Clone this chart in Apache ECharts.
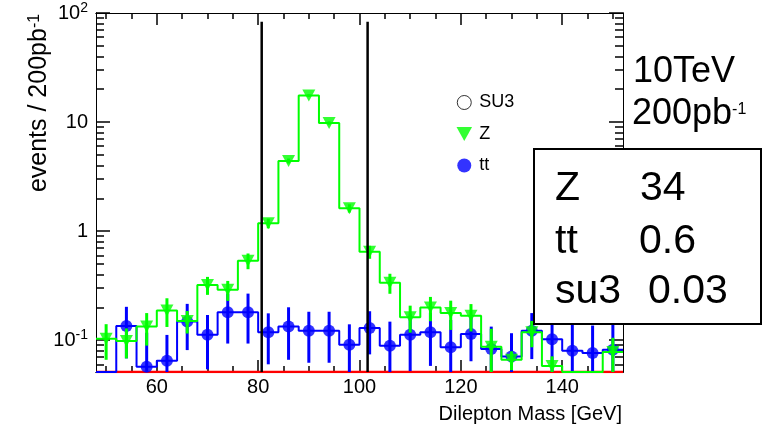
<!DOCTYPE html>
<html><head><meta charset="utf-8">
<script src="https://cdn.jsdelivr.net/npm/echarts@6/dist/echarts.min.js"></script>
<style>html,body{margin:0;padding:0;background:#fff}#c{width:767px;height:430px}</style>
</head><body><div id="c"></div>
<script>
// ---- data ----
const massBins = [50,54,58,62,66,70,74,78,82,86,90,94,98,102,106,110,114,118,122,126,130,134,138,142,146,150];
const binWidth = 4;
const zVals  = [0.103,0.098,0.133,0.187,0.150,0.32,0.289,0.535,1.18,4.4,17.5,9.8,1.62,0.645,0.336,0.162,0.199,0.177,0.167,0.087,0.066,0.118,0.058,0,0,0.078];
const zErr   = [0.037,0.030,0.044,0.055,0.035,0.06,0.060,0.088,0.12,0.23,0.46,0.34,0.14,0.088,0.070,0.045,0.050,0.053,0.047,0.040,0.013,0.032,0.013,0,0,0.027];
const ttVals = [0,0.135,0.057,0.0646,0.148,0.112,0.18,0.18,0.118,0.133,0.122,0.122,0.0906,0.129,0.0887,0.112,0.118,0.086,0.114,0.083,0.0707,0.122,0.102,0.0798,0.076,0.0815];
const ttErr  = [0,0.067,0.060,0.047,0.067,0.058,0.087,0.087,0.058,0.067,0.060,0.060,0.049,0.055,0.059,0.060,0.060,0.067,0.050,0.050,0.045,0.055,0.060,0.060,0.060,0.060];
const su3Vals = [0,0,0,0,0,0,0,0,0,0,0,0,0,0,0,0,0,0,0,0,0,0,0,0,0,0];
const cutLines = [80.7, 101.6];
const cutTop = 83;
const xLabelTicks = [60,80,100,120,140];
const xMinorTicks = [50,55,65,70,75,85,90,95,105,110,115,125,130,135,145,150];
const yLabelTicks = [0.1,1,10,100];
const yMinorTicks = [0.06,0.07,0.08,0.09,0.2,0.3,0.4,0.5,0.6,0.7,0.8,0.9,2,3,4,5,6,7,8,9,20,30,40,50,60,70,80,90];
const xMin = 48, xMax = 152, yMin = 0.051, yMax = 100;

const FONT = "'Liberation Sans', Arial, Helvetica, sans-serif";
const GREEN = '#00ff00', BLUE = '#0000ff', RED = '#ff0000';

function stepData(vals){
  const pts = massBins.map((c,i)=>[c - binWidth/2, vals[i] > 0 ? vals[i] : yMin]);
  const n = vals.length - 1;
  pts.push([massBins[n] + binWidth/2, vals[n] > 0 ? vals[n] : yMin]);
  return pts;
}
function pointData(vals, errs){
  const out = [];
  massBins.forEach((c,i)=>{ if (vals[i] > 0) out.push([c, vals[i], errs ? errs[i] : 0]); });
  return out;
}
function errBar(color){
  return function(params, api){
    const x = api.value(0), v = api.value(1), e = api.value(2);
    const p1 = api.coord([x, v + e]);
    const p2 = api.coord([x, Math.max(v - e, 1e-4)]);
    return {type:'line', shape:{x1:p1[0], y1:p1[1], x2:p2[0], y2:p2[1]}, style:{stroke:color, lineWidth:3}};
  };
}
function tick(vals, len){
  return {show:true, inside:true, length:len, customValues:vals, lineStyle:{color:'#000', width:1.5}};
}
function xAx(pos, ticks, len, labels){
  return {
    type:'value', min:xMin, max:xMax, position:pos, gridIndex:0,
    axisLine:{show: true, onZero:false, lineStyle:{color:'#000', width:1}},
    axisTick:tick(ticks, len),
    axisLabel: labels ? {show:true, customValues:xLabelTicks, margin:5, color:'#000', fontSize:20, fontFamily:FONT} : {show:false},
    splitLine:{show:false}
  };
}
function yLabel(v){
  const e = Math.round(Math.log10(v));
  if (e === 0) return '{b|1}';
  if (e === 1) return '{b|10}';
  return '{b|10}{s|' + e + '}';
}
function yAx(pos, ticks, len, labels){
  return {
    type:'log', logBase:10, min:yMin, max:yMax, position:pos, gridIndex:0,
    axisLine:{show:true, lineStyle:{color:'#000', width:1}},
    axisTick:tick(ticks, len),
    axisLabel: labels ? {
      show:true, customValues:yLabelTicks, margin:8, formatter:yLabel,
      rich:{ b:{fontSize:20, fontFamily:FONT, color:'#000'}, s:{fontSize:14, fontFamily:FONT, color:'#000', padding:[0,0,10,0]} }
    } : {show:false},
    splitLine:{show:false}
  };
}

const chart = echarts.init(document.getElementById('c'), null, {renderer:'canvas'});
chart.setOption({
  animation:false,
  backgroundColor:'#fff',
  grid:{left:96, right:144, top:13, bottom:58},
  xAxis:[
    xAx('bottom', xLabelTicks, 12, true),
    xAx('bottom', xMinorTicks, 6, false),
    xAx('top', xLabelTicks, 12, false),
    xAx('top', xMinorTicks, 6, false)
  ],
  yAxis:[
    yAx('left', yLabelTicks, 14, true),
    yAx('left', yMinorTicks, 8, false),
    yAx('right', yLabelTicks, 14, false),
    yAx('right', yMinorTicks, 8, false)
  ],
  legend:{
    orient:'vertical', left:456.5, top:93.5, padding:0, itemGap:13.5,
    itemWidth:20, itemHeight:14, selectedMode:false,
    textStyle:{fontSize:18, fontFamily:FONT, color:'#000', lineHeight:14},
    data:[
      {name:'SU3', icon:'circle', itemStyle:{color:'#fff', borderColor:'#000', borderWidth:1}},
      {name:'Z', icon:'path://M0,0L10,0L5,9Z', itemStyle:{color:GREEN, borderWidth:0}},
      {name:'tt', icon:'circle', itemStyle:{color:BLUE, borderWidth:0}}
    ]
  },
  series:[
    {name:'SU3', type:'scatter', data:pointData(su3Vals), symbol:'circle', symbolSize:12,
      itemStyle:{color:'#fff', borderColor:'#000'}, z:9},
    {name:'tt', type:'scatter', data:pointData(ttVals, ttErr), symbol:'circle', symbolSize:12,
      itemStyle:{color:BLUE}, z:4},
    {name:'Z', type:'scatter', data:pointData(zVals, zErr), symbol:'triangle', symbolRotate:180, symbolSize:[13,12],
      itemStyle:{color:GREEN}, z:7},
    {name:'SU3 hist', type:'line', data:stepData(su3Vals), step:'end', symbol:'none', showSymbol:false,
      lineStyle:{color:RED, width:2.5}, z:1},
    {name:'tt hist', type:'line', data:stepData(ttVals), step:'end', symbol:'none', showSymbol:false,
      lineStyle:{color:BLUE, width:2}, z:2},
    {name:'tt err', type:'custom', data:pointData(ttVals, ttErr), renderItem:errBar(BLUE), clip:true, z:3},
    {name:'Z hist', type:'line', data:stepData(zVals), step:'end', symbol:'none', showSymbol:false,
      lineStyle:{color:GREEN, width:2}, z:5},
    {name:'Z err', type:'custom', data:pointData(zVals, zErr), renderItem:errBar(GREEN), clip:true, z:6},
    {name:'cuts', type:'custom', data:cutLines.map(x=>[x, cutTop]), clip:true, z:8,
      renderItem:function(params, api){
        const x = api.value(0);
        const p1 = api.coord([x, api.value(1)]);
        const p2 = api.coord([x, yMin]);
        return {type:'line', shape:{x1:p1[0], y1:p1[1], x2:p2[0], y2:p2[1]}, style:{stroke:'#000', lineWidth:2.5}};
      }}
  ],
  graphic:[
    {type:'text', x:39, y:103, rotation:Math.PI/2, z:20,
      style:{text:'{m|events / 200pb}{s|-1}', align:'center', verticalAlign:'middle',
        rich:{m:{fontSize:25, fontFamily:FONT, fill:'#000'}, s:{fontSize:16, fontFamily:FONT, fill:'#000', padding:[0,0,9,0]}}}},
    {type:'text', x:622, y:414, z:20,
      style:{text:'Dilepton Mass [GeV]', align:'right', verticalAlign:'middle', font:'20px ' + FONT, fill:'#000'}},
    {type:'text', x:633, y:72, z:20,
      style:{text:'10TeV', align:'left', verticalAlign:'middle', font:'36px ' + FONT, fill:'#000'}},
    {type:'text', x:632, y:114, z:20,
      style:{text:'{m|200pb}{s|-1}', align:'left', verticalAlign:'middle',
        rich:{m:{fontSize:36, fontFamily:FONT, fill:'#000'}, s:{fontSize:16, fontFamily:FONT, fill:'#000', padding:[0,0,8,0]}}}},
    {type:'rect', z:20, shape:{x:534, y:149, width:227, height:175}, style:{fill:'#fff', stroke:'#000', lineWidth:2}},
    {type:'text', x:555, y:189, z:21, style:{text:'Z', align:'left', verticalAlign:'middle', font:'41px ' + FONT, fill:'#000'}},
    {type:'text', x:640, y:189, z:21, style:{text:'34', align:'left', verticalAlign:'middle', font:'41px ' + FONT, fill:'#000'}},
    {type:'text', x:555, y:242, z:21, style:{text:'tt', align:'left', verticalAlign:'middle', font:'41px ' + FONT, fill:'#000'}},
    {type:'text', x:639, y:242, z:21, style:{text:'0.6', align:'left', verticalAlign:'middle', font:'41px ' + FONT, fill:'#000'}},
    {type:'text', x:555, y:292, z:21, style:{text:'su3', align:'left', verticalAlign:'middle', font:'41px ' + FONT, fill:'#000'}},
    {type:'text', x:648, y:292, z:21, style:{text:'0.03', align:'left', verticalAlign:'middle', font:'41px ' + FONT, fill:'#000'}}
  ]
});
</script>
</body></html>
